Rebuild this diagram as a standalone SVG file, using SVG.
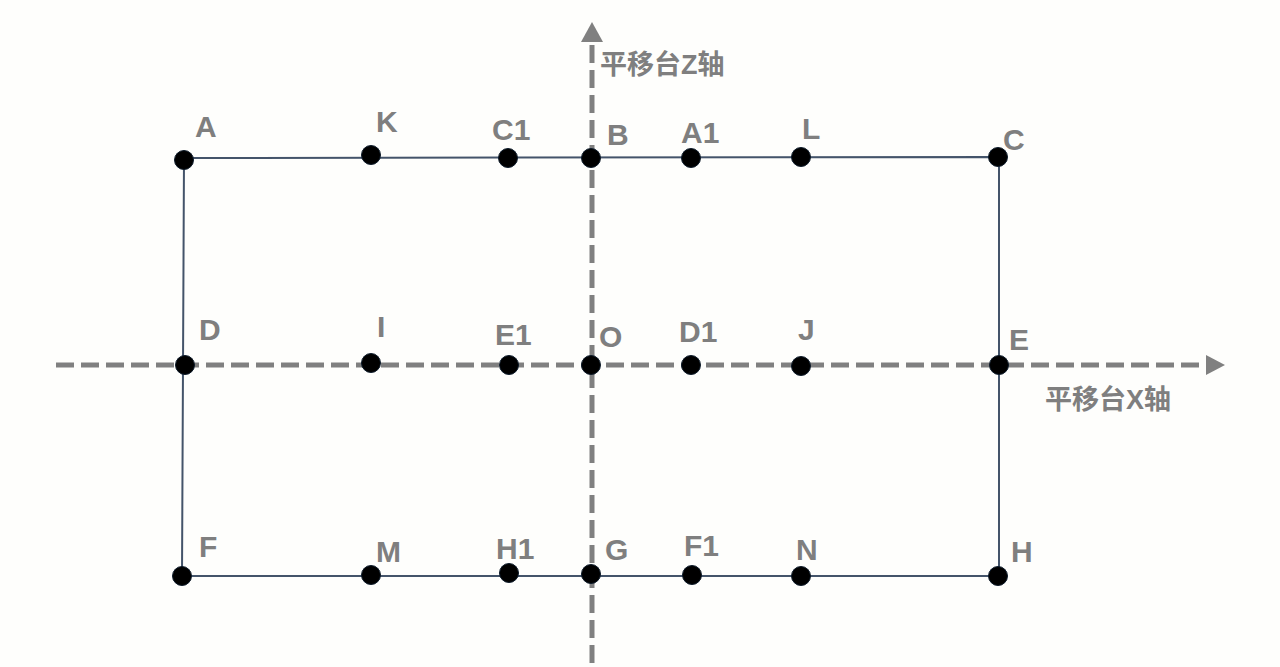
<svg xmlns="http://www.w3.org/2000/svg" width="1280" height="667" viewBox="0 0 1280 667">
<style>
.edge{stroke:#44546a;stroke-width:2;fill:none}
.axis{stroke:#808080;stroke-width:5;stroke-dasharray:18 7;fill:none}
.dot{fill:#000;stroke:#0d1b2a;stroke-width:1}
.lbl{font-family:"Liberation Sans",Arial,sans-serif;font-weight:bold;font-size:30px;fill:#7f7f7f}
.cn{font-family:"Liberation Sans","Noto Sans CJK SC",sans-serif;font-weight:bold;font-size:27px;fill:#7f7f7f}
</style>
<rect width="1280" height="667" fill="#fefefc"/>
<g id="connectors">
<path class="edge" d="M184,158 L999,157 L999,576 L182,576 L184,158"/>
<path class="axis" d="M56,365 L1208,365"/>
<polygon points="1206,355 1225,365 1206,375" fill="#808080"/>
<path class="axis" d="M592,663 L592,40"/>
<polygon points="581,42 592,22 603,42" fill="#808080"/>
</g>
<g id="axis-labels">
<text class="cn" x="600" y="74">平移台Z轴</text>
<text class="cn" x="1045" y="409">平移台X轴</text>
</g>
<g id="node-A"><circle class="dot" cx="184" cy="160" r="9.5"/><text class="lbl" x="195" y="137">A</text></g>
<g id="node-K"><circle class="dot" cx="371" cy="155" r="9.5"/><text class="lbl" x="376" y="132">K</text></g>
<g id="node-C1"><circle class="dot" cx="508" cy="158" r="9.5"/><text class="lbl" x="492" y="140">C1</text></g>
<g id="node-B"><circle class="dot" cx="591" cy="158" r="9.5"/><text class="lbl" x="607" y="145">B</text></g>
<g id="node-A1"><circle class="dot" cx="691" cy="158" r="9.5"/><text class="lbl" x="681" y="143">A1</text></g>
<g id="node-L"><circle class="dot" cx="801" cy="157" r="9.5"/><text class="lbl" x="802" y="139">L</text></g>
<g id="node-C"><circle class="dot" cx="998" cy="157" r="9.5"/><text class="lbl" x="1003" y="150">C</text></g>
<g id="node-D"><circle class="dot" cx="185" cy="365" r="9.5"/><text class="lbl" x="199" y="340">D</text></g>
<g id="node-I"><circle class="dot" cx="371" cy="363" r="9.5"/><text class="lbl" x="377" y="337">I</text></g>
<g id="node-E1"><circle class="dot" cx="509" cy="365" r="9.5"/><text class="lbl" x="495" y="345">E1</text></g>
<g id="node-O"><circle class="dot" cx="591" cy="365" r="9.5"/><text class="lbl" x="599" y="347">O</text></g>
<g id="node-D1"><circle class="dot" cx="691" cy="365" r="9.5"/><text class="lbl" x="679" y="342">D1</text></g>
<g id="node-J"><circle class="dot" cx="801" cy="366" r="9.5"/><text class="lbl" x="798" y="340">J</text></g>
<g id="node-E"><circle class="dot" cx="999" cy="365" r="9.5"/><text class="lbl" x="1009" y="350">E</text></g>
<g id="node-F"><circle class="dot" cx="182" cy="576" r="9.5"/><text class="lbl" x="199" y="557">F</text></g>
<g id="node-M"><circle class="dot" cx="371" cy="575" r="9.5"/><text class="lbl" x="376" y="562">M</text></g>
<g id="node-H1"><circle class="dot" cx="509" cy="573" r="9.5"/><text class="lbl" x="496" y="559">H1</text></g>
<g id="node-G"><circle class="dot" cx="591" cy="574" r="9.5"/><text class="lbl" x="605" y="560">G</text></g>
<g id="node-F1"><circle class="dot" cx="692" cy="575" r="9.5"/><text class="lbl" x="684" y="556">F1</text></g>
<g id="node-N"><circle class="dot" cx="801" cy="576" r="9.5"/><text class="lbl" x="796" y="560">N</text></g>
<g id="node-H"><circle class="dot" cx="998" cy="576" r="9.5"/><text class="lbl" x="1011" y="562">H</text></g>
</svg>
